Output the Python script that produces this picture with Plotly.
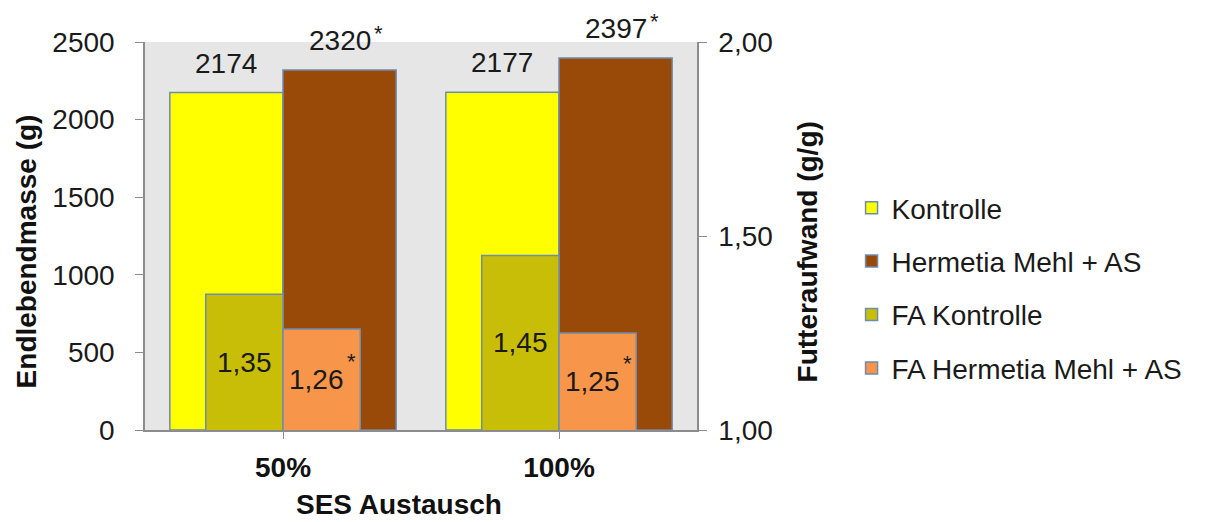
import plotly.graph_objects as go

categories = ["50%", "100%"]
kontrolle = [2174, 2177]
hermetia = [2320, 2397]
fa_kontrolle = [1.35, 1.45]
fa_hermetia = [1.26, 1.25]
hermetia_sig = ["*", "*"]
fa_hermetia_sig = ["*", "*"]

names = ["Kontrolle", "Hermetia Mehl + AS", "FA Kontrolle", "FA Hermetia Mehl + AS"]
colors = ["#FFFF00", "#994A08", "#C8BE08", "#F7964A"]
line_col = "#6E8CAE"
FONT = "Liberation Sans, Arial, sans-serif"
TXT = "#1a1a1a"
xi = list(range(len(categories)))

W_BIG, W_SMALL = 0.41, 0.28
specs = [
    (kontrolle, "y", -W_BIG, W_BIG),
    (hermetia, "y", 0.0, W_BIG),
    (fa_kontrolle, "y2", -W_SMALL, W_SMALL),
    (fa_hermetia, "y2", 0.0, W_SMALL),
]

fig = go.Figure()
for k, (vals, ax, off, w) in enumerate(specs):
    fig.add_trace(go.Bar(
        x=xi, y=vals, yaxis=ax, name=names[k], offset=off, width=w,
        marker=dict(color=colors[k], line=dict(color=line_col, width=1.5)),
        legendgroup=names[k], hoverinfo="skip",
    ))

ann = []
for i in xi:
    ann.append(dict(x=i - W_BIG / 2, y=kontrolle[i], xref="x", yref="y", text=str(kontrolle[i]),
                    showarrow=False, yanchor="bottom", xanchor="center", yshift=12,
                    font=dict(size=28, color=TXT)))
    ann.append(dict(x=i + W_BIG / 2, y=hermetia[i], xref="x", yref="y", text=str(hermetia[i]),
                    showarrow=False, yanchor="bottom", xanchor="center", yshift=12,
                    font=dict(size=28, color=TXT)))
    ann.append(dict(x=i + W_BIG / 2, y=hermetia[i], xref="x", yref="y", text=hermetia_sig[i],
                    showarrow=False, yanchor="top", xanchor="left", xshift=32, yshift=51,
                    font=dict(size=22, color=TXT)))
    ann.append(dict(x=i - W_SMALL / 2, y=(1 + fa_kontrolle[i]) / 2, xref="x", yref="y2",
                    text=f"{fa_kontrolle[i]:.2f}".replace(".", ","), showarrow=False,
                    xanchor="center", yanchor="middle", font=dict(size=28, color=TXT)))
    ann.append(dict(x=i + W_SMALL / 2, y=(1 + fa_hermetia[i]) / 2, xref="x", yref="y2",
                    text=f"{fa_hermetia[i]:.2f}".replace(".", ","), showarrow=False, xshift=-5,
                    xanchor="center", yanchor="middle", font=dict(size=28, color=TXT)))
    ann.append(dict(x=i + W_SMALL / 2, y=(1 + fa_hermetia[i]) / 2, xref="x", yref="y2",
                    text=fa_hermetia_sig[i], showarrow=False, xanchor="left", yanchor="middle",
                    xshift=23, yshift=18, font=dict(size=22, color=TXT)))

ann.append(dict(x=-0.214, y=0.46, xref="paper", yref="paper", text="<b>Endlebendmasse (g)</b>",
                textangle=-90, showarrow=False, xanchor="center", yanchor="middle",
                font=dict(size=28, color="#111")))
ann.append(dict(x=1.201, y=0.46, xref="paper", yref="paper", text="<b>Futteraufwand (g/g)</b>",
                textangle=-90, showarrow=False, xanchor="center", yanchor="middle",
                font=dict(size=28, color="#111")))
ann.append(dict(x=0.46, y=-0.193, xref="paper", yref="paper", text="<b>SES Austausch</b>",
                showarrow=False, xanchor="center", yanchor="middle",
                font=dict(size=28, color="#111")))

fig.update_layout(
    width=1227, height=522,
    margin=dict(l=137, r=538, t=34, b=100),
    paper_bgcolor="white", plot_bgcolor="#E6E6E6",
    font=dict(family=FONT, size=28, color=TXT),
    separators=",.",
    barmode="overlay",
    showlegend=True,
    legend=dict(x=1.28, y=0.366, xanchor="left", yanchor="middle", traceorder="grouped",
                tracegroupgap=14, font=dict(size=28, color=TXT), bgcolor="rgba(0,0,0,0)"),
    xaxis=dict(
        tickmode="array", tickvals=xi, ticktext=[f"<b>{c}</b>" for c in categories],
        range=[-0.5, len(categories) - 0.5], showgrid=False, zeroline=False,
        showline=True, linecolor="#8C8C8C", linewidth=1.5,
        ticks="outside", ticklen=7, tickcolor="#8C8C8C", tickson="boundaries",
        ticklabelstandoff=5, tickfont=dict(size=28, color="#111"),
    ),
    yaxis=dict(
        range=[0, 2500], tickvals=[0, 500, 1000, 1500, 2000, 2500], showgrid=False, zeroline=False,
        showline=True, linecolor="#8C8C8C", linewidth=1.5,
        ticks="outside", ticklen=8, tickcolor="#8C8C8C", ticklabelstandoff=15,
        tickfont=dict(size=28),
    ),
    yaxis2=dict(
        range=[1, 2], tickvals=[1, 1.5, 2], tickformat=".2f", overlaying="y", side="right",
        showgrid=False, zeroline=False, showline=True, linecolor="#8C8C8C", linewidth=1.5,
        ticks="outside", ticklen=8, tickcolor="#8C8C8C", ticklabelstandoff=6,
        tickfont=dict(size=28),
    ),
    annotations=ann,
)

fig.write_html("out.html")
